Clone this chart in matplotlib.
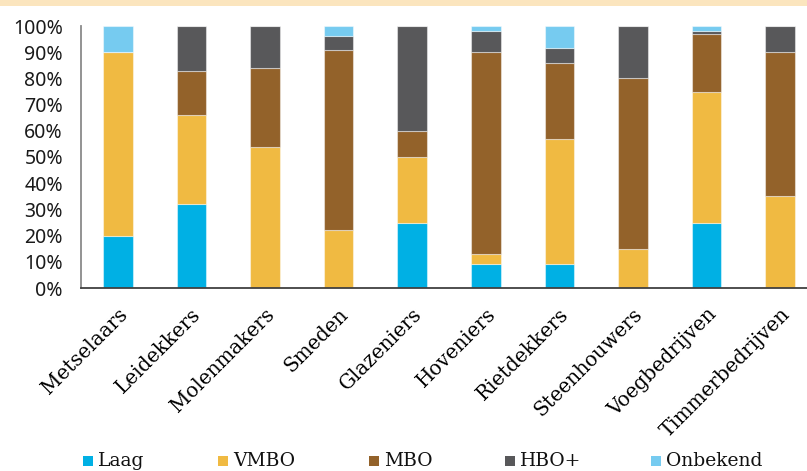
import matplotlib
matplotlib.use("Agg")
import matplotlib.pyplot as plt
from matplotlib.patches import Rectangle
from matplotlib.transforms import ScaledTranslation
import numpy as np

categories = ["Metselaars", "Leidekkers", "Molenmakers", "Smeden", "Glazeniers",
              "Hoveniers", "Rietdekkers", "Steenhouwers", "Voegbedrijven", "Timmerbedrijven"]
laag =     [20, 32, 0, 0, 25, 9, 9, 0, 25, 0]
vmbo =     [70, 34, 54, 22, 25, 4, 48, 15, 50, 35]
mbo =      [0, 17, 30, 69, 10, 77, 29, 65, 22, 55]
hbo =      [0, 17, 16, 5, 40, 8, 5.5, 20, 1, 10]
onbekend = [10, 0, 0, 4, 0, 2, 8.5, 0, 2, 0]

series = [("Laag", laag, "#00B0E4"),
          ("VMBO", vmbo, "#F0BA42"),
          ("MBO", mbo, "#93622A"),
          ("HBO+", hbo, "#58585A"),
          ("Onbekend", onbekend, "#76CBF0")]

W, H = 807, 471
fig = plt.figure(figsize=(W / 100, H / 100), dpi=100)
# top beige strip
fig.patches.append(Rectangle((0, 1 - 6 / H), 1, 6 / H, transform=fig.transFigure,
                             facecolor="#FBE5BE", edgecolor="none", zorder=0))

ax = fig.add_axes([81 / W, 1 - 288 / H, (817 - 81) / W, (288 - 26) / H])
x = np.arange(len(categories))
bottom = np.zeros(len(categories))
for name, vals, col in series:
    v = np.array(vals, dtype=float)
    ax.bar(x, v, 0.4, bottom=bottom, color=col, edgecolor=(1, 1, 1, 0.45),
           linewidth=0.8, label=name, zorder=2)
    bottom += v

ax.set_xlim(-0.5, 9.5)
ax.set_ylim(0, 100)
ax.set_yticks(np.arange(0, 101, 10))
ax.set_yticklabels([f"{t}%" for t in range(0, 101, 10)], fontfamily="Noto Sans",
                   fontsize=14, color="#1a1a1a")
ax.set_xticks(x)
ax.set_xticklabels(categories, rotation=45, ha="right", va="top", rotation_mode="anchor",
                   fontfamily="DejaVu Serif", fontsize=14.3)
off = ScaledTranslation(-8 / 100, -13 / 100, fig.dpi_scale_trans)
for lab in ax.get_xticklabels():
    lab.set_transform(lab.get_transform() + off)
ax.tick_params(axis="both", length=0)
ax.tick_params(axis="y", pad=13)
ax.tick_params(axis="x", pad=12)
for s in ["top", "right"]:
    ax.spines[s].set_visible(False)
ax.spines["left"].set_color("#8a8a8a")
ax.spines["left"].set_linewidth(1.3)
ax.spines["bottom"].set_color("#404040")
ax.spines["bottom"].set_linewidth(1.3)

# legend (manual placement)
leg_x = [83, 218, 369, 505, 651]
base = 466
for (name, _, col), lx in zip(series, leg_x):
    fig.patches.append(Rectangle((lx / W, 1 - base / H), 10 / W, 10 / H,
                                 transform=fig.transFigure, facecolor=col,
                                 edgecolor="none"))
    fig.text((lx + 15) / W, 1 - base / H, name, fontfamily="DejaVu Serif",
             fontsize=13.5, va="baseline", ha="left", color="#111111")

fig.savefig("out.png", dpi=100)
